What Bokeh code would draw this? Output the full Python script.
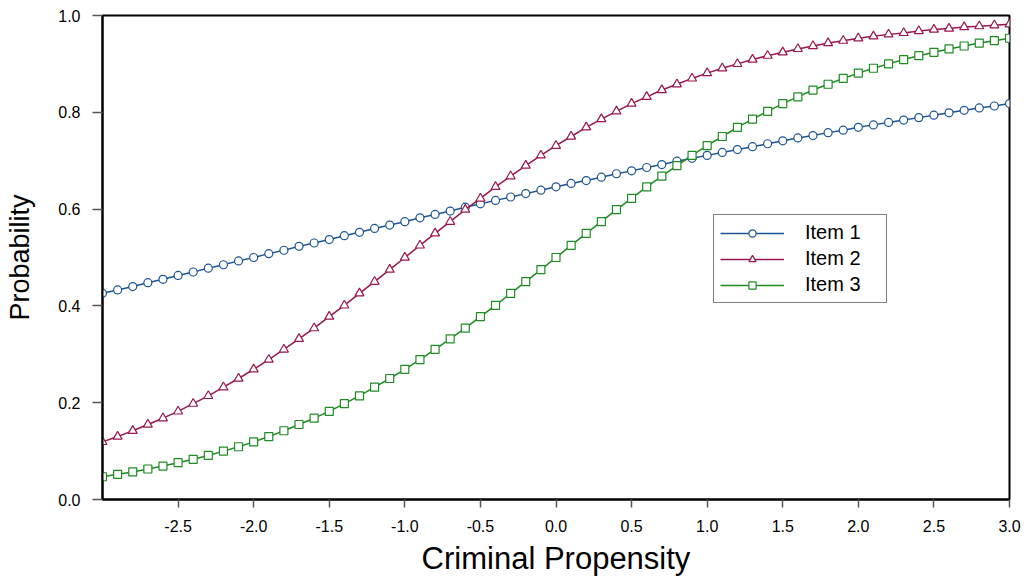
from bokeh.plotting import figure
from bokeh.models import FixedTicker, Range1d, Legend, LegendItem, NumeralTickFormatter
from bokeh.embed import file_html
from bokeh.resources import INLINE

theta = [round(-3.0 + 0.1 * i, 1) for i in range(61)]

item1 = [0.426, 0.433, 0.440, 0.448, 0.455, 0.463, 0.470, 0.478, 0.485, 0.493,
         0.500, 0.508, 0.515, 0.523, 0.530, 0.537, 0.545, 0.552, 0.560, 0.567,
         0.574, 0.582, 0.589, 0.596, 0.604, 0.611, 0.618, 0.625, 0.632, 0.639,
         0.646, 0.653, 0.659, 0.666, 0.673, 0.679, 0.686, 0.692, 0.699, 0.705,
         0.711, 0.717, 0.723, 0.729, 0.735, 0.741, 0.747, 0.752, 0.758, 0.763,
         0.769, 0.774, 0.779, 0.784, 0.789, 0.794, 0.799, 0.804, 0.809, 0.813,
         0.818]

item2 = [0.119, 0.130, 0.142, 0.155, 0.168, 0.182, 0.198, 0.214, 0.232, 0.250,
         0.269, 0.289, 0.310, 0.332, 0.354, 0.378, 0.401, 0.426, 0.450, 0.475,
         0.500, 0.525, 0.550, 0.574, 0.599, 0.622, 0.646, 0.668, 0.690, 0.711,
         0.731, 0.750, 0.769, 0.786, 0.802, 0.818, 0.832, 0.846, 0.858, 0.870,
         0.881, 0.891, 0.900, 0.909, 0.917, 0.924, 0.931, 0.937, 0.943, 0.948,
         0.953, 0.957, 0.961, 0.964, 0.968, 0.971, 0.973, 0.976, 0.978, 0.980,
         0.982]

item3 = [0.047, 0.052, 0.057, 0.063, 0.069, 0.076, 0.083, 0.091, 0.100, 0.109,
         0.119, 0.130, 0.142, 0.155, 0.168, 0.182, 0.198, 0.214, 0.232, 0.250,
         0.269, 0.289, 0.310, 0.332, 0.354, 0.378, 0.401, 0.426, 0.450, 0.475,
         0.500, 0.525, 0.550, 0.574, 0.599, 0.622, 0.646, 0.668, 0.690, 0.711,
         0.731, 0.750, 0.769, 0.786, 0.802, 0.818, 0.832, 0.846, 0.858, 0.870,
         0.881, 0.891, 0.900, 0.909, 0.917, 0.924, 0.931, 0.937, 0.943, 0.948,
         0.953]

x_ticks = [-2.5, -2.0, -1.5, -1.0, -0.5, 0.0, 0.5, 1.0, 1.5, 2.0, 2.5, 3.0]
y_ticks = [0.0, 0.2, 0.4, 0.6, 0.8, 1.0]

FONT = "Liberation Sans"

p = figure(width=1026, height=578, output_backend="svg", toolbar_location=None,
           x_range=Range1d(-3.0, 3.0), y_range=Range1d(0.0, 1.0),
           min_border_left=102, min_border_right=17, min_border_top=15, min_border_bottom=79)
p.xgrid.visible = False
p.ygrid.visible = False
p.outline_line_color = "black"
p.outline_line_width = 2
p.background_fill_color = "white"
p.border_fill_color = "white"

for ax in (p.xaxis[0], p.yaxis[0]):
    ax.axis_line_color = "black"
    ax.axis_line_width = 2
    ax.major_tick_line_color = "#555555"
    ax.major_tick_line_width = 1.5
    ax.minor_tick_line_color = None
    ax.major_tick_in = 0
    ax.major_label_text_font = FONT
    ax.major_label_text_font_size = "16px"
    ax.major_label_text_color = "black"
    ax.axis_label_text_font = FONT
    ax.axis_label_text_font_style = "normal"
    ax.axis_label_text_color = "black"
    ax.formatter = NumeralTickFormatter(format="0.0")

p.xaxis[0].ticker = FixedTicker(ticks=x_ticks)
p.yaxis[0].ticker = FixedTicker(ticks=y_ticks)
p.xaxis[0].major_tick_out = 8
p.yaxis[0].major_tick_out = 10
p.xaxis[0].major_label_standoff = 12
p.yaxis[0].major_label_standoff = 12
p.xaxis[0].axis_label = "Criminal Propensity"
p.yaxis[0].axis_label = "Probability"
p.xaxis[0].axis_label_text_font_size = "31px"
p.yaxis[0].axis_label_text_font_size = "27px"
p.xaxis[0].axis_label_standoff = 6
p.yaxis[0].axis_label_standoff = 20

blue = "#1c5494"
red = "#991750"
green = "#1e8c23"

l1 = p.line(theta, item1, line_color=blue, line_width=1.5)
s1 = p.scatter(theta, item1, marker="circle", size=8, fill_color="white", line_color=blue, line_width=1.2)
l2 = p.line(theta, item2, line_color=red, line_width=1.5)
s2 = p.scatter(theta, item2, marker="triangle", size=9, fill_color="white", line_color=red, line_width=1.2)
l3 = p.line(theta, item3, line_color=green, line_width=1.5)
s3 = p.scatter(theta, item3, marker="square", size=8, fill_color="white", line_color=green, line_width=1.2)

legend = Legend(items=[
    LegendItem(label="Item 1", renderers=[l1, s1]),
    LegendItem(label="Item 2", renderers=[l2, s2]),
    LegendItem(label="Item 3", renderers=[l3, s3]),
], location=(611, 196))
legend.glyph_width = 64
legend.glyph_height = 18
legend.label_height = 18
legend.label_width = 75
legend.label_text_font = FONT
legend.label_text_font_size = "20px"
legend.label_text_color = "black"
legend.label_standoff = 21
legend.spacing = 3
legend.padding = 6
legend.border_line_color = "black"
legend.border_line_width = 1
legend.background_fill_alpha = 1.0
legend.margin = 0
p.add_layout(legend, "center")

open("out.html", "w").write(file_html(p, INLINE))
